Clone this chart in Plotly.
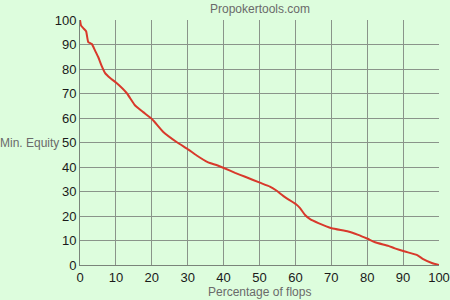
import plotly.graph_objects as go

pct_flops = [0, 0.3, 0.9, 1.7, 2.3, 3.3, 4.2, 5.1, 6.0, 7.0, 8.4, 10.1, 13.0, 15.3, 17.6, 20.1,
             23.2, 26.9, 30.2, 32.4, 35.7, 38.0, 40.4, 43.2, 46.0, 50.1, 52.9, 54.8, 56.6,
             57.6, 60.1, 61.3, 62.7, 64.1, 66.4, 70.1, 74.7, 77.5, 80.1, 82.2, 85.9, 87.7,
             90.5, 93.8, 95.6, 98.0, 100]
min_equity = [100, 97.7, 96.7, 95.4, 91.0, 90.2, 87.5, 84.8, 81.4, 78.3, 76.3, 74.4, 70.2, 65.2,
              62.4, 59.5, 54.3, 50.2, 47.1, 44.8, 41.9, 40.8, 39.4, 37.6, 36.0, 33.6, 32.0,
              30.3, 28.2, 27.2, 24.9, 23.2, 20.4, 18.7, 17.1, 15.0, 13.7, 12.3, 10.7, 9.3,
              7.8, 6.8, 5.5, 4.1, 2.4, 0.8, 0]
tick_vals = list(range(0, 101, 10))

bg = "#DDFDDD"
fig = go.Figure()
fig.add_trace(go.Scatter(x=pct_flops, y=min_equity, mode="lines",
                         line=dict(color="#D8392B", width=2, shape="spline", smoothing=0.4),
                         hoverinfo="skip", cliponaxis=False))
axis_common = dict(range=[0, 100], tickvals=tick_vals, showgrid=True, gridcolor="#8A948A",
                   gridwidth=1, zeroline=False, showline=True, linecolor="#7A847A",
                   linewidth=1, ticks="", tickfont=dict(family="Liberation Sans, Arial",
                                                        size=13, color="#1a1a1a"),
                   fixedrange=True, automargin=False)
fig.update_xaxes(**axis_common, mirror=False, ticklabelstandoff=0)
fig.update_yaxes(**axis_common, mirror=False, ticklabelstandoff=0)
fig.update_layout(
    width=450, height=300,
    margin=dict(l=80, r=11, t=20, b=35),
    paper_bgcolor=bg, plot_bgcolor=bg,
    showlegend=False,
    font=dict(family="Liberation Sans, Arial", size=12, color="#666"),
    annotations=[
        dict(text="Propokertools.com", xref="paper", yref="paper", x=0.5, y=1,
             yshift=2, xanchor="center", yanchor="bottom", showarrow=False,
             font=dict(size=12, color="#6a6a6a")),
        dict(text="Min. Equity", xref="paper", yref="paper", x=0, xshift=-51,
             y=0.5, xanchor="center", yanchor="middle", showarrow=False,
             font=dict(size=12, color="#6a6a6a")),
        dict(text="Percentage of flops", xref="paper", yref="paper", x=0.5, y=0,
             yshift=-18, xanchor="center", yanchor="top", showarrow=False,
             font=dict(size=12, color="#6a6a6a")),
    ],
)
fig.write_html("out.html")
